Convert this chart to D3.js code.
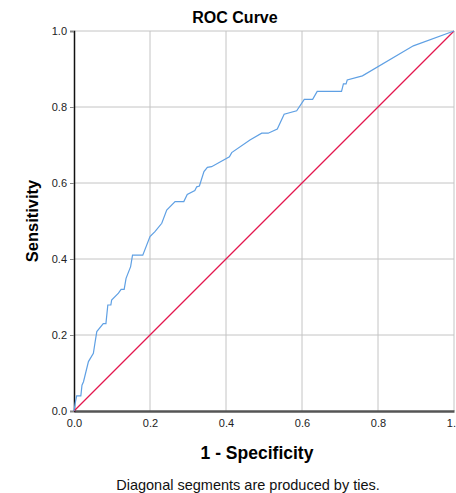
<!doctype html>
<html>
<head>
<meta charset="utf-8">
<title>ROC Curve</title>
<style>
  body { margin: 0; background: #fff; }
  svg { display: block; font-family: "Liberation Sans", Arial, sans-serif; }
  .grid line { stroke: #c4c4c4; stroke-width: 1; }
  .tick text { fill: #222; font-size: 11px; }
</style>
<script src="https://d3js.org/d3.v7.min.js"></script>
</head>
<body>
<svg width="456" height="493"></svg>
<script>
// ROC points (1 - specificity, sensitivity)
var fpr = [0, 0.003, 0.007, 0.018, 0.021, 0.025, 0.038, 0.051, 0.055, 0.06, 0.077, 0.084,
  0.089, 0.097, 0.099, 0.117, 0.124, 0.132, 0.137, 0.149, 0.154, 0.181, 0.2, 0.213,
  0.231, 0.244, 0.266, 0.289, 0.298, 0.318, 0.323, 0.33, 0.342, 0.351, 0.362, 0.409,
  0.415, 0.463, 0.494, 0.511, 0.535, 0.553, 0.586, 0.606, 0.628, 0.64, 0.704, 0.709,
  0.716, 0.719, 0.759, 0.893, 1];
var tpr = [0, 0.02, 0.04, 0.04, 0.068, 0.077, 0.13, 0.152, 0.178, 0.209, 0.23, 0.23,
  0.279, 0.279, 0.292, 0.31, 0.32, 0.32, 0.349, 0.38, 0.41, 0.41, 0.459, 0.472,
  0.494, 0.529, 0.551, 0.551, 0.57, 0.58, 0.59, 0.592, 0.63, 0.641, 0.643, 0.669,
  0.68, 0.713, 0.731, 0.731, 0.742, 0.781, 0.79, 0.82, 0.82, 0.841, 0.841, 0.861,
  0.861, 0.871, 0.882, 0.961, 1];
var ticks = [0, 0.2, 0.4, 0.6, 0.8, 1];

var svg = d3.select("svg");
var mLeft = 74, mRight = 454, mTop = 31, mBottom = 411;

var x = d3.scaleLinear().domain([0, 1]).range([mLeft, mRight]);
var y = d3.scaleLinear().domain([0, 1]).range([mBottom, mTop]);

// grid
var grid = svg.append("g").attr("class", "grid");
grid.selectAll(".v").data(ticks.slice(1)).enter().append("line")
  .attr("x1", function(d) { return x(d); }).attr("x2", function(d) { return x(d); })
  .attr("y1", mTop).attr("y2", mBottom);
grid.selectAll(".h").data(ticks.slice(1)).enter().append("line")
  .attr("x1", mLeft).attr("x2", mRight)
  .attr("y1", function(d) { return y(d); }).attr("y2", function(d) { return y(d); });

// axes
var xAxis = svg.append("g")
  .attr("transform", "translate(0," + mBottom + ")")
  .call(d3.axisBottom(x).tickValues(ticks).tickSize(0).tickPadding(8).tickFormat(d3.format(".1f")));
xAxis.select(".domain").attr("stroke", "#555").attr("stroke-width", 2.5);

var yAxis = svg.append("g")
  .attr("transform", "translate(" + mLeft + ",0)")
  .call(d3.axisLeft(y).tickValues(ticks).tickSize(4).tickPadding(3).tickFormat(d3.format(".1f")));
yAxis.select(".domain").attr("stroke", "#111").attr("stroke-width", 1.5);
yAxis.selectAll(".tick line").attr("stroke", "#888");

// reference diagonal
svg.append("line")
  .attr("x1", x(0)).attr("y1", y(0)).attr("x2", x(1)).attr("y2", y(1))
  .attr("stroke", "#e3174f").attr("stroke-width", 1.2);

// ROC curve
var line = d3.line()
  .x(function(d) { return x(d[0]); })
  .y(function(d) { return y(d[1]); });
svg.append("path")
  .datum(fpr.map(function(v, i) { return [v, tpr[i]]; }))
  .attr("d", line)
  .attr("fill", "none")
  .attr("stroke", "#5fa0e4")
  .attr("stroke-width", 1.2);

// titles
svg.append("text").attr("x", 235).attr("y", 23).attr("text-anchor", "middle")
  .attr("font-size", 16).attr("font-weight", "bold").text("ROC Curve");
svg.append("text").attr("x", 257).attr("y", 459).attr("text-anchor", "middle")
  .attr("font-size", 17.5).attr("font-weight", "bold").text("1 - Specificity");
svg.append("text").attr("transform", "translate(38,221) rotate(-90)").attr("text-anchor", "middle")
  .attr("font-size", 16.5).attr("font-weight", "bold").text("Sensitivity");
svg.append("text").attr("x", 248).attr("y", 490).attr("text-anchor", "middle")
  .attr("font-size", 14.5).attr("fill", "#111").text("Diagonal segments are produced by ties.");
</script>
</body>
</html>
